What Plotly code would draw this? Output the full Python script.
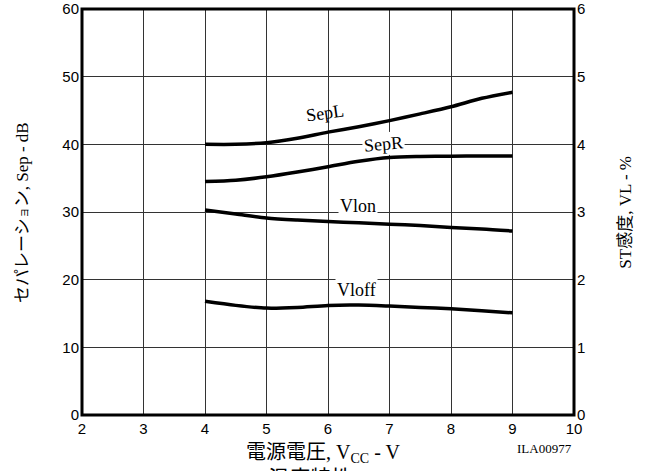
import plotly.graph_objects as go

vcc = [4, 4.5, 5, 5.5, 6, 6.5, 7, 7.5, 8, 8.5, 9]
sep_l = [40.0, 40.0, 40.25, 40.9, 41.8, 42.6, 43.5, 44.5, 45.55, 46.8, 47.7]
sep_r = [34.5, 34.7, 35.2, 35.9, 36.7, 37.5, 38.05, 38.2, 38.25, 38.27, 38.27]
vl_on = [3.03, 2.97, 2.91, 2.88, 2.86, 2.84, 2.82, 2.80, 2.77, 2.75, 2.72]
vl_off = [1.68, 1.62, 1.58, 1.59, 1.62, 1.625, 1.61, 1.59, 1.57, 1.54, 1.51]

x_ticks = [2, 3, 4, 5, 6, 7, 8, 9, 10]
y_ticks = [0, 10, 20, 30, 40, 50, 60]
y2_ticks = [0, 1, 2, 3, 4, 5, 6]

serif = "Liberation Serif, Noto Sans CJK JP, serif"
sans = "Liberation Sans, Arial, sans-serif"

fig = go.Figure()
line = dict(color="black", width=3.5, shape="spline", smoothing=0.8)
fig.add_trace(go.Scatter(x=vcc, y=sep_l, mode="lines", line=line, name="SepL"))
fig.add_trace(go.Scatter(x=vcc, y=sep_r, mode="lines", line=line, name="SepR"))
fig.add_trace(go.Scatter(x=vcc, y=vl_on, mode="lines", line=line, name="Vlon", yaxis="y2"))
fig.add_trace(go.Scatter(x=vcc, y=vl_off, mode="lines", line=line, name="Vloff", yaxis="y2"))

ann_font = dict(family=serif, size=18, color="black")
anns = [
    dict(x=5.95, y=44.6, text="SepL", angle=-8, bgcolor="rgba(0,0,0,0)"),
    dict(x=6.9, y=40.0, text="SepR", angle=-5, bgcolor="white"),
    dict(x=6.49, y=30.9, text="Vlon", angle=0, bgcolor="white"),
    dict(x=6.47, y=18.5, text="Vloff", angle=0, bgcolor="white"),
]
annotations = []
for a in anns:
    annotations.append(dict(x=a["x"], y=a["y"], xref="x", yref="y", text=a["text"],
                            showarrow=False, textangle=a["angle"], font=ann_font,
                            bgcolor=a["bgcolor"], borderpad=1))
annotations += [
    dict(x=0.49, y=-0.058, xref="paper", yref="paper", xanchor="center", yanchor="top",
         text="電源電圧, V<sub>CC</sub> - V", showarrow=False,
         font=dict(family=serif, size=20, color="black")),
    dict(x=0.94, y=-0.06, xref="paper", yref="paper", xanchor="center", yanchor="top",
         text="ILA00977", showarrow=False,
         font=dict(family=serif, size=13, color="black")),
    dict(x=0.42, y=-0.12, xref="paper", yref="paper", xanchor="center", yanchor="top",
         text="VCC温度特性", showarrow=False,
         font=dict(family=serif, size=21, color="black")),
    dict(x=-0.122, y=0.5, xref="paper", yref="paper", xanchor="center", yanchor="middle",
         text="セパレーシ<span style='font-size:11px'>ョ</span>ン, Sep - dB", textangle=-90,
         showarrow=False, font=dict(family=serif, size=17, color="black")),
    dict(x=1.103, y=0.5, xref="paper", yref="paper", xanchor="center", yanchor="middle",
         text="ST感度, VL - %", textangle=-90,
         showarrow=False, font=dict(family=serif, size=17, color="black")),
]

fig.update_layout(
    width=657, height=471,
    margin=dict(l=82, r=83, t=9, b=56),
    paper_bgcolor="white", plot_bgcolor="white",
    showlegend=False,
    font=dict(family=sans, size=15, color="black"),
    xaxis=dict(range=[2, 10], tickvals=x_ticks, showgrid=True, gridcolor="#333",
               gridwidth=1, zeroline=False, showline=False, ticks="", ticklabelstandoff=3,
               automargin=False, ticklabeloverflow="allow",
               tickfont=dict(family=sans, size=15, color="black")),
    yaxis=dict(range=[0, 60], tickvals=y_ticks, showgrid=True, gridcolor="#333",
               gridwidth=1, zeroline=False, showline=False, ticks="", ticklabelstandoff=2,
               automargin=False, ticklabeloverflow="allow",
               tickfont=dict(family=sans, size=15, color="black")),
    yaxis2=dict(range=[0, 6], tickvals=y2_ticks, overlaying="y", side="right",
                showgrid=False, zeroline=False, showline=False, ticks="", ticklabelstandoff=2,
                automargin=False, ticklabeloverflow="allow",
                tickfont=dict(family=sans, size=15, color="black")),
    annotations=annotations,
    shapes=[dict(type="rect", xref="paper", yref="paper", x0=0, y0=0, x1=1, y1=1,
                 line=dict(color="black", width=3), layer="above")],
)

fig.write_html("out.html")
